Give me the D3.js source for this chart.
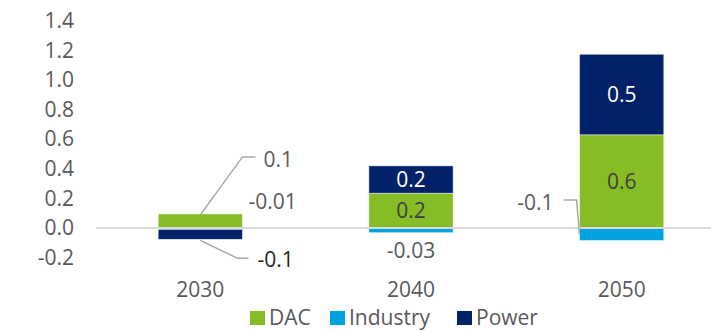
<!DOCTYPE html>
<html>
<head>
<meta charset="utf-8">
<script src="https://cdn.jsdelivr.net/npm/d3@7"></script>
<style>
  html, body { margin: 0; padding: 0; background: #fff; }
  svg { display: block; font-family: "Open Sans", sans-serif; }
</style>
</head>
<body>
<svg id="chart" width="711" height="332"></svg>
<script>
// Data
const years = ["2030", "2040", "2050"];
const seriesNames = ["DAC", "Industry", "Power"];
const dacValues = [0.095, 0.235, 0.63];
const industryValues = [-0.01, -0.032, -0.085];
const powerValues = [-0.067, 0.185, 0.545];
const yTicks = [-0.2, 0, 0.2, 0.4, 0.6, 0.8, 1.0, 1.2, 1.4];
const colors = { DAC: "#86BC25", Industry: "#00A3E0", Power: "#012169" };

const rows = years.map((y, i) => ({
  year: y, DAC: dacValues[i], Industry: industryValues[i], Power: powerValues[i]
}));

const svg = d3.select("#chart");
const W = 711, H = 332;
const FS = 21;

// Plain hyphen for negative numbers
const locale = d3.formatLocale({ decimal: ".", thousands: ",", grouping: [3], currency: ["", ""], minus: "-" });

const x = d3.scaleBand().domain(years).range([95, 727])
  .paddingInner(0.6).paddingOuter(0.3);
const y = d3.scaleLinear().domain([-0.2, 1.4]).range([257.5, 21]);

const textColor = "#595959";
const fmt = v => Math.abs(v) < 0.05 ? locale.format(".2f")(v) : locale.format(".1f")(v);

// Y axis labels
const yAxis = d3.axisLeft(y).tickValues(yTicks).tickFormat(locale.format(".1f")).tickSize(0).tickPadding(0);
svg.append("g").attr("transform", "translate(74,0)").call(yAxis)
  .call(g => g.select(".domain").remove())
  .call(g => g.selectAll("text").attr("fill", textColor).attr("font-size", FS)
    .attr("font-family", "Open Sans, sans-serif"));

// Stacked bars
const stack = d3.stack().keys(seriesNames).offset(d3.stackOffsetDiverging);
const layers = stack(rows);

svg.append("g").selectAll("g").data(layers).join("g")
  .attr("fill", d => colors[d.key])
  .selectAll("rect").data(d => d).join("rect")
  .attr("x", d => x(d.data.year))
  .attr("width", x.bandwidth())
  .attr("y", d => y(Math.max(d[0], d[1])))
  .attr("height", d => Math.abs(y(d[0]) - y(d[1])))
  .attr("stroke", "#ffffff").attr("stroke-opacity", 0.6).attr("stroke-width", 0.8);

// Zero line
svg.append("line")
  .attr("x1", 96).attr("x2", W)
  .attr("y1", y(0)).attr("y2", y(0))
  .attr("stroke", "#d9d9d9").attr("stroke-width", 2);

// Category labels
svg.append("g").selectAll("text").data(years).join("text")
  .attr("x", d => x(d) + x.bandwidth() / 2)
  .attr("y", 290)
  .attr("dy", "0.35em")
  .attr("text-anchor", "middle")
  .attr("fill", textColor).attr("font-size", FS)
  .text(d => d);

// Value labels
const labels = svg.append("g").attr("font-size", FS);
const leader = svg.append("g").attr("fill", "none").attr("stroke", "#a6a6a6").attr("stroke-width", 1.5);

layers.forEach(layer => {
  layer.forEach(seg => {
    const yr = seg.data.year;
    const v = seg.data[layer.key];
    const x0 = x(yr), x1 = x0 + x.bandwidth(), xc = x0 + x.bandwidth() / 2;
    const top = y(Math.max(seg[0], seg[1])), bot = y(Math.min(seg[0], seg[1]));
    const mid = (top + bot) / 2;
    const big = Math.abs(v) >= 0.15;

    if (big) {
      labels.append("text")
        .attr("x", xc).attr("y", mid).attr("dy", "0.35em")
        .attr("text-anchor", "middle")
        .attr("fill", layer.key === "Power" ? "#ffffff" : "#404040")
        .text(fmt(v));
      return;
    }

    if (yr === "2030" && layer.key === "DAC") {
      const ty = top - 54;
      leader.append("polyline").attr("points",
        [[xc, top + 1], [x1, ty - 3], [x1 + 13, ty - 3]].map(p => p.join(",")).join(" "));
      labels.append("text").attr("x", x1 + 21).attr("y", ty).attr("dy", "0.35em")
        .attr("fill", textColor).text(fmt(v));
    } else if (yr === "2030" && layer.key === "Industry") {
      labels.append("text").attr("x", x1 + 6).attr("y", y(0) - 26).attr("dy", "0.35em")
        .attr("fill", textColor).text(fmt(v));
    } else if (yr === "2030" && layer.key === "Power") {
      const ty = bot + 20;
      leader.append("polyline").attr("points",
        [[xc, bot + 1], [x1 - 5, ty - 1], [x1 + 6, ty - 1]].map(p => p.join(",")).join(" "));
      labels.append("text").attr("x", x1 + 15).attr("y", ty).attr("dy", "0.35em")
        .attr("fill", "#262626").text(fmt(v));
    } else if (yr === "2040" && layer.key === "Industry") {
      labels.append("text").attr("x", xc).attr("y", bot + 18).attr("dy", "0.35em")
        .attr("text-anchor", "middle").attr("fill", textColor).text(fmt(v));
    } else if (yr === "2050" && layer.key === "Industry") {
      const ty = y(0) - 25;
      leader.append("polyline").attr("points",
        [[x0 - 16, ty - 3], [x0 - 3, ty - 3], [x0, mid]].map(p => p.join(",")).join(" "));
      labels.append("text").attr("x", x0 - 26).attr("y", ty).attr("dy", "0.35em")
        .attr("text-anchor", "end").attr("fill", textColor).text(fmt(v));
    }
  });
});

// Legend
const legendItems = [
  { key: "DAC", x: 250 },
  { key: "Industry", x: 330 },
  { key: "Power", x: 457 }
];
const lg = svg.append("g").selectAll("g").data(legendItems).join("g")
  .attr("transform", d => `translate(${d.x},311)`);
lg.append("rect").attr("width", 15).attr("height", 14).attr("fill", d => colors[d.key]);
lg.append("text").attr("x", 19).attr("y", 7).attr("dy", "0.35em")
  .attr("fill", textColor).attr("font-size", FS).text(d => d.key);
</script>
</body>
</html>
